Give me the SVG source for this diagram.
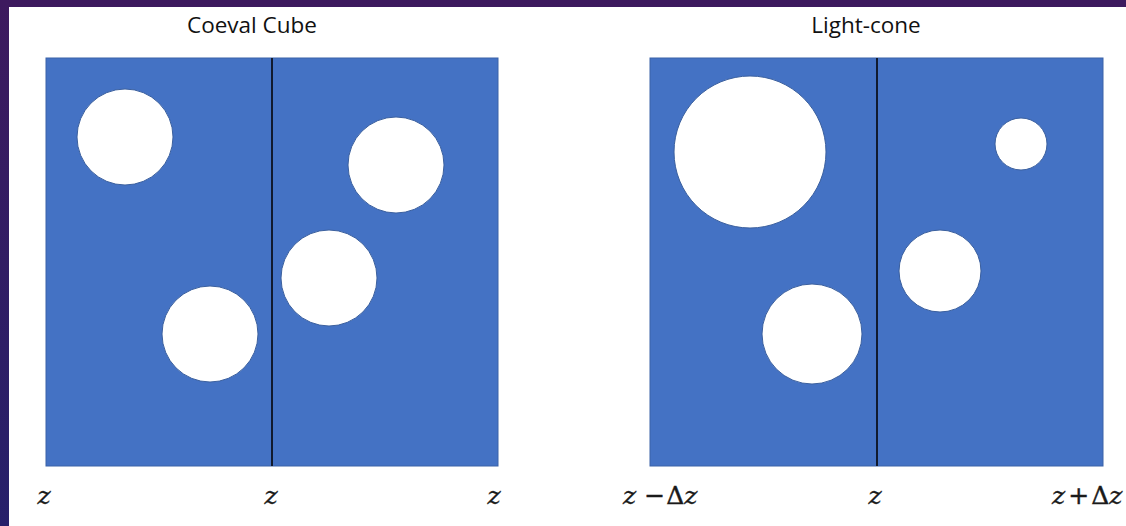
<svg xmlns="http://www.w3.org/2000/svg" width="1126" height="526" viewBox="0 0 1126 526">
<defs>
<linearGradient id="bg" x1="0" y1="0" x2="0" y2="1">
<stop offset="0" stop-color="#3d1a5e"/>
<stop offset="1" stop-color="#26206a"/>
</linearGradient>
<style>
.box{fill:#4472c4;stroke:#3a62a8;stroke-width:1}
.hole{fill:#ffffff;stroke:#3a5f9e;stroke-width:1}
.div{stroke:#111a2e;stroke-width:2}
.title{font-family:"Open Sans","Liberation Sans",sans-serif;font-size:22.5px;fill:#111;text-anchor:middle}
.z{font-family:"DejaVu Serif","Liberation Serif",serif;font-style:italic;font-size:25px;fill:#1a1a1a;stroke:#1a1a1a;stroke-width:0.4}
.up{font-style:normal}
</style>
</defs>
<rect width="1126" height="526" fill="url(#bg)"/>
<rect x="9" y="7" width="1117" height="519" fill="#ffffff"/>
<g id="coeval">
<text class="title" x="252" y="33">Coeval Cube</text>
<rect class="box" x="46" y="58" width="452" height="408"/>
<circle class="hole" cx="125" cy="137" r="48"/>
<circle class="hole" cx="210" cy="334" r="48"/>
<circle class="hole" cx="396" cy="165" r="48"/>
<circle class="hole" cx="329" cy="278" r="48"/>
<line class="div" x1="272" y1="58" x2="272" y2="466"/>
<text class="z" x="44" y="504" text-anchor="middle">z</text>
<text class="z" x="271" y="504" text-anchor="middle">z</text>
<text class="z" x="494" y="504" text-anchor="middle">z</text>
</g>
<g id="lightcone">
<text class="title" x="866" y="33">Light-cone</text>
<rect class="box" x="650" y="58" width="453" height="408"/>
<circle class="hole" cx="750" cy="152" r="76"/>
<circle class="hole" cx="1021" cy="144" r="26"/>
<circle class="hole" cx="940" cy="271" r="41"/>
<circle class="hole" cx="812" cy="334" r="50"/>
<line class="div" x1="877" y1="58" x2="877" y2="466"/>
<text class="z" x="623" y="504">z<tspan class="up" dx="8">−</tspan><tspan class="up" dx="1">Δ</tspan>z</text>
<text class="z" x="875" y="504" text-anchor="middle">z</text>
<text class="z" x="1052" y="504">z<tspan class="up" dx="3">+</tspan><tspan class="up" dx="2">Δ</tspan>z</text>
</g>
</svg>
